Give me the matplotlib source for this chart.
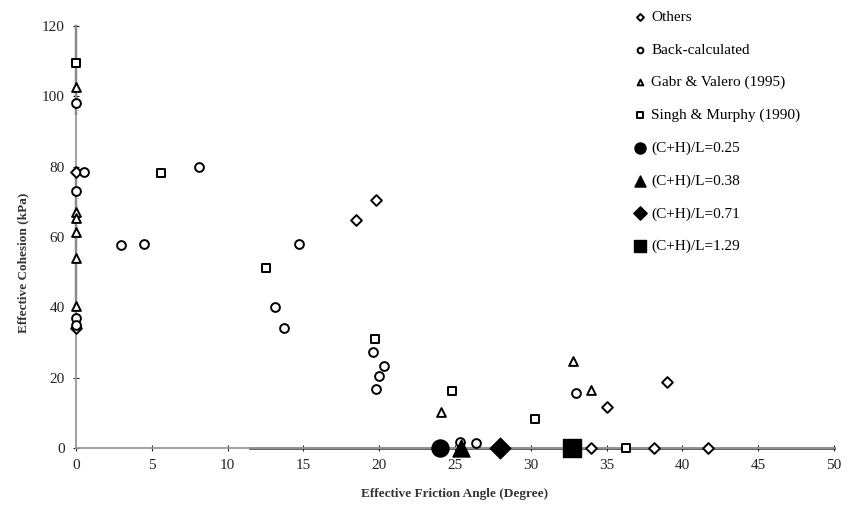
import matplotlib.pyplot as plt

plt.rcParams['font.family'] = ['Liberation Serif', 'DejaVu Serif']

# Effective friction angle (deg) / effective cohesion (kPa)
others_phi = [19.8, 18.5, 35.0, 39.0, 34.0, 38.1, 41.7, 0.0, 0.0]
others_c = [70.5, 64.8, 11.6, 18.9, 0.0, 0.0, 0.0, 34.0, 78.5]

back_phi = [0.0, 0.5, 8.1, 0.0, 3.0, 4.5, 14.7, 13.1, 13.7, 19.6, 20.3, 20.0,
            19.8, 33.0, 25.3, 26.4, 0.0, 0.0]
back_c = [98.0, 78.5, 79.8, 73.2, 57.7, 58.0, 58.0, 40.2, 34.1, 27.4, 23.3, 20.5,
          16.8, 15.7, 1.8, 1.5, 37.0, 35.0]

gabr_phi = [0.0, 0.0, 0.0, 0.0, 0.0, 0.0, 24.1, 32.8, 34.0]
gabr_c = [102.6, 67.0, 65.5, 61.3, 54.0, 40.4, 10.3, 24.7, 16.5]

singh_phi = [0.0, 5.6, 12.5, 19.7, 24.8, 30.3, 36.3]
singh_c = [109.5, 78.3, 51.3, 30.9, 16.3, 8.2, 0.0]

# Model results for different (C+H)/L ratios
ratio_labels = ['(C+H)/L=0.25', '(C+H)/L=0.38', '(C+H)/L=0.71', '(C+H)/L=1.29']
ratio_phi = [24.0, 25.4, 28.0, 32.7]
ratio_c = [0.0, 0.0, 0.0, 0.0]

# Ranges reported as spans along the axes
c_spans = [(34, 80), (95, 120)]
phi_spans = [(11.5, 50)]

fig = plt.figure(figsize=(8.52, 5.08), dpi=100)
ax = fig.add_axes([0.0892, 0.1181, 0.8897, 0.8307])

for lo, hi in c_spans:
    ax.plot([0, 0], [lo, hi], color='black', lw=1.6, zorder=2, clip_on=False)
for lo, hi in phi_spans:
    ax.plot([lo, hi], [0, 0], color='#333333', lw=1.8, zorder=2, clip_on=False)

hollow = dict(facecolors='white', edgecolors='black', linewidths=1.4, s=40,
              zorder=3, clip_on=False)
ax.scatter(others_phi, others_c, marker='D', label='Others', **{**hollow, 's': 30})
ax.scatter(back_phi, back_c, marker='o', label='Back-calculated', **hollow)
ax.scatter(gabr_phi, gabr_c, marker='^', label='Gabr & Valero (1995)', **hollow)
ax.scatter(singh_phi, singh_c, marker='s', label='Singh & Murphy (1990)', **hollow)

filled_markers = ['o', '^', 'D', 's']
filled_sizes = [150, 150, 110, 170]
for lab, x, y, m, sz in zip(ratio_labels, ratio_phi, ratio_c, filled_markers, filled_sizes):
    ax.scatter([x], [y], marker=m, s=sz, color='black', label=lab, zorder=4,
               clip_on=False)

ax.set_xlim(0, 50)
ax.set_ylim(0, 120)
ax.set_xticks(range(0, 51, 5))
ax.set_yticks(range(0, 121, 20))
ax.tick_params(direction='inout', length=4, width=0.8, labelsize=11,
               colors='#222222', pad=6)
for side in ['top', 'right']:
    ax.spines[side].set_visible(False)
for side in ['left', 'bottom']:
    ax.spines[side].set_color('#9a9a9a')
    ax.spines[side].set_linewidth(1.3)

ax.set_xlabel('Effective Friction Angle (Degree)', fontsize=9.5, fontweight='bold',
              color='#333333')
ax.set_ylabel('Effective Cohesion (kPa)', fontsize=9.5, fontweight='bold',
              color='#333333')
ax.xaxis.set_label_coords(0.5, -0.095)
ax.yaxis.set_label_coords(-0.062, 0.44)

fig.legend(loc='upper left', bbox_to_anchor=(0.735, 0.995), frameon=False,
           fontsize=11, borderpad=0, handlelength=0.8, handletextpad=0.35,
           labelspacing=1.24, markerscale=0.65)

fig.savefig('out.png', dpi=100)
